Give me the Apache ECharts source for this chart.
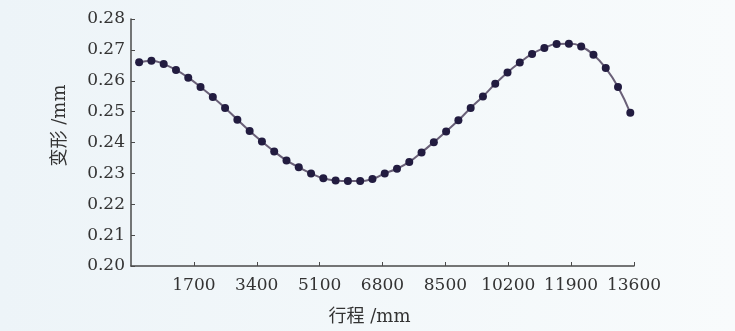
<!DOCTYPE html>
<html>
<head>
<meta charset="utf-8">
<script src="https://cdn.jsdelivr.net/npm/echarts@6/dist/echarts.min.js"></script>
<style>
html,body{margin:0;padding:0;}
#c{width:735px;height:331px;}
</style>
</head>
<body>
<div id="c"></div>
<script>
const strokes = [220,552,884,1216,1548,1880,2212,2544,2876,3208,3540,3872,4204,4536,4868,5200,5532,5864,6196,6528,6860,7192,7524,7856,8188,8520,8852,9184,9516,9848,10180,10512,10844,11176,11508,11840,12172,12504,12836,13168,13500];
const deformation = [0.2660,0.2665,0.2654,0.2635,0.2610,0.2580,0.2547,0.2512,0.2474,0.2437,0.2403,0.2371,0.2342,0.2320,0.2300,0.2284,0.2277,0.2275,0.2275,0.2282,0.2300,0.2315,0.2337,0.2368,0.2401,0.2436,0.2472,0.2512,0.2549,0.2590,0.2627,0.2659,0.2687,0.2706,0.2719,0.2720,0.2711,0.2684,0.2641,0.2580,0.2496];
const xAxisName = '行程 /mm';
const yAxisName = '变形 /mm';

const points = strokes.map((x, i) => [x, deformation[i]]);
const chart = echarts.init(document.getElementById('c'));
const font = '"DejaVu Serif", "Liberation Serif", "Noto Sans CJK SC", serif';
chart.setOption({
  backgroundColor: {
    type: 'linear', x: 0, y: 0, x2: 1, y2: 0,
    colorStops: [{offset: 0, color: '#edf4f8'}, {offset: 1, color: '#f8fbfc'}]
  },
  animation: false,
  grid: {left: 131, right: 101, top: 19, bottom: 64},
  xAxis: {
    type: 'value', min: 0, max: 13600, interval: 1700,
    name: xAxisName, nameLocation: 'middle', nameGap: 42,
    nameTextStyle: {fontFamily: font, fontSize: 18, color: '#333333', padding: [0, 26, 0, 0]},
    axisLine: {show: true, lineStyle: {color: '#4a4a4a', width: 1.5}},
    axisTick: {show: true, inside: true, length: 4, lineStyle: {color: '#4a4a4a'}},
    axisLabel: {showMinLabel: false, fontFamily: font, fontSize: 17, color: '#333333', margin: 11,
      formatter: v => String(v)},
    splitLine: {show: false}
  },
  yAxis: {
    type: 'value', min: 0.20, max: 0.28, interval: 0.01,
    name: yAxisName, nameLocation: 'middle', nameGap: 62, nameRotate: 90,
    nameTextStyle: {fontFamily: font, fontSize: 18, color: '#333333', padding: [0, 0, 0, 34]},
    axisLine: {show: true, lineStyle: {color: '#4a4a4a', width: 1.5}},
    axisTick: {show: true, inside: true, length: 4, lineStyle: {color: '#4a4a4a'}},
    axisLabel: {fontFamily: font, fontSize: 17, color: '#333333', margin: 6,
      formatter: v => v.toFixed(2)},
    splitLine: {show: false}
  },
  series: [{
    type: 'line',
    data: points,
    smooth: true,
    symbol: 'circle',
    symbolSize: 8,
    lineStyle: {color: '#6a6078', width: 2},
    itemStyle: {color: '#221c40'}
  }]
});
</script>
</body>
</html>
